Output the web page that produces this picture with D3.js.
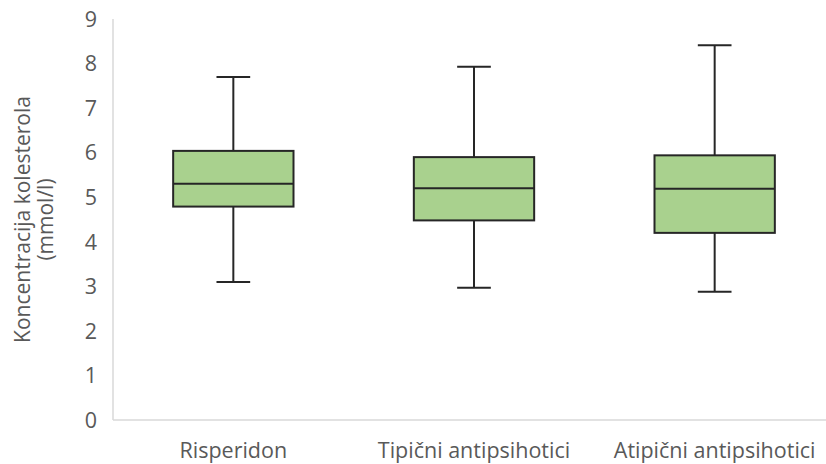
<!DOCTYPE html>
<html><head><meta charset="utf-8">
<script src="https://cdn.jsdelivr.net/npm/d3@7"></script>
<style>body{margin:0;background:#fff}svg{display:block}</style>
</head><body>
<svg id="c" width="826" height="464"></svg>
<script>
const categories = ["Risperidon", "Tipični antipsihotici", "Atipični antipsihotici"];
const minValues = [3.10, 2.97, 2.88];
const q1Values = [4.79, 4.48, 4.20];
const medianValues = [5.30, 5.20, 5.19];
const q3Values = [6.04, 5.90, 5.94];
const maxValues = [7.70, 7.93, 8.41];
const yTicks = [0, 1, 2, 3, 4, 5, 6, 7, 8, 9];
const yTitle = ["Koncentracija kolesterola", "(mmol/l)"];

const data = categories.map((c, i) => ({c, min: minValues[i], q1: q1Values[i], med: medianValues[i], q3: q3Values[i], max: maxValues[i]}));

const svg = d3.select("#c");
const font = "'Open Sans', 'Noto Sans', sans-serif";
const x = d3.scaleBand().domain(categories).range([113, 835]).padding(0);
const y = d3.scaleLinear().domain([0, 9]).range([420, 19]);

svg.append("line").attr("x1", 113).attr("x2", 113).attr("y1", y(9)).attr("y2", y(0)).attr("stroke", "#d9d9d9").attr("stroke-width", 1.5);
svg.append("line").attr("x1", 113).attr("x2", 835).attr("y1", y(0)).attr("y2", y(0)).attr("stroke", "#d9d9d9").attr("stroke-width", 1.5);

svg.append("g").selectAll("text").data(yTicks).join("text")
  .attr("x", 97).attr("y", d => y(d)).attr("dy", "0.36em").attr("text-anchor", "end")
  .attr("font-family", font).attr("font-size", 21.5).attr("fill", "#595959").text(d => d);

svg.append("g").selectAll("text").data(categories).join("text")
  .attr("x", d => x(d) + x.bandwidth() / 2).attr("y", 458).attr("text-anchor", "middle")
  .attr("font-family", font).attr("font-size", 21.5).attr("fill", "#595959").text(d => d);

const t = svg.append("text").attr("transform", "translate(0," + ((y(9) + y(0)) / 2) + ") rotate(-90)")
  .attr("text-anchor", "middle").attr("font-family", font).attr("font-size", 21).attr("fill", "#595959");
yTitle.forEach((s, i) => t.append("tspan").attr("x", 0).attr("y", i === 0 ? 30 : 53).text(s));

const bw = x.bandwidth() * 0.5;
const cw = x.bandwidth() * 0.14;
const g = svg.append("g").selectAll("g").data(data).join("g");
const cx = d => x(d.c) + x.bandwidth() / 2;
g.append("line").attr("x1", cx).attr("x2", cx).attr("y1", d => y(d.max)).attr("y2", d => y(d.q3)).attr("stroke", "#262626").attr("stroke-width", 2);
g.append("line").attr("x1", cx).attr("x2", cx).attr("y1", d => y(d.q1)).attr("y2", d => y(d.min)).attr("stroke", "#262626").attr("stroke-width", 2);
g.append("line").attr("x1", d => cx(d) - cw / 2).attr("x2", d => cx(d) + cw / 2).attr("y1", d => y(d.max)).attr("y2", d => y(d.max)).attr("stroke", "#262626").attr("stroke-width", 2);
g.append("line").attr("x1", d => cx(d) - cw / 2).attr("x2", d => cx(d) + cw / 2).attr("y1", d => y(d.min)).attr("y2", d => y(d.min)).attr("stroke", "#262626").attr("stroke-width", 2);
g.append("rect").attr("x", d => cx(d) - bw / 2).attr("width", bw).attr("y", d => y(d.q3)).attr("height", d => y(d.q1) - y(d.q3))
  .attr("fill", "#a9d18e").attr("stroke", "#262626").attr("stroke-width", 2);
g.append("line").attr("x1", d => cx(d) - bw / 2).attr("x2", d => cx(d) + bw / 2).attr("y1", d => y(d.med)).attr("y2", d => y(d.med)).attr("stroke", "#262626").attr("stroke-width", 2);
</script>
</body></html>
